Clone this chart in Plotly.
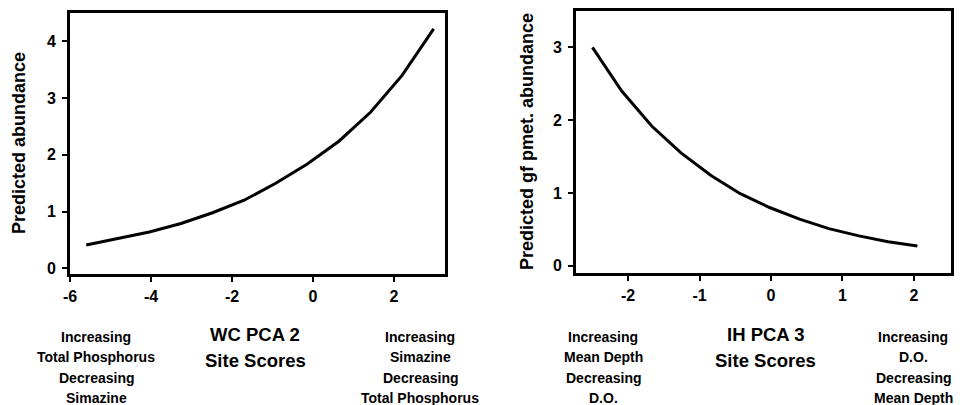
import plotly.graph_objects as go

W, H = 973, 405

# Left panel: WC PCA 2
wc_x = [-5.6, -4.82, -4.04, -3.26, -2.48, -1.70, -0.92, -0.14, 0.64, 1.42, 2.20, 2.98]
wc_y = [0.41, 0.52, 0.64, 0.79, 0.98, 1.20, 1.50, 1.84, 2.24, 2.75, 3.40, 4.22]
wc_xticks = [-6, -4, -2, 0, 2]
wc_xlabels = ["-6", "-4", "-2", "0", "2"]
wc_yticks = [0, 1, 2, 3, 4]

# Right panel: IH PCA 3
ih_x = [-2.5, -2.09, -1.67, -1.26, -0.84, -0.43, -0.02, 0.40, 0.81, 1.23, 1.64, 2.05]
ih_y = [3.0, 2.40, 1.92, 1.55, 1.24, 0.99, 0.80, 0.64, 0.51, 0.41, 0.33, 0.27]
ih_xticks = [-2, -1, 0, 1, 2]
ih_xlabels = ["-2", "-1", "0", "1", "2"]
ih_yticks = [0, 1, 2, 3]

FONT = "Liberation Sans, Arial, sans-serif"

fig = go.Figure()
fig.add_trace(go.Scatter(x=wc_x, y=wc_y, mode="lines",
                         line=dict(color="black", width=3), xaxis="x", yaxis="y",
                         showlegend=False, hoverinfo="skip"))
fig.add_trace(go.Scatter(x=ih_x, y=ih_y, mode="lines",
                         line=dict(color="black", width=3), xaxis="x2", yaxis="y2",
                         showlegend=False, hoverinfo="skip"))

def px_x(p):
    return p / W

def px_y(p):
    return 1 - p / H

axis_common = dict(showline=True, linecolor="black", linewidth=3, mirror=True,
                   ticks="outside", ticklen=5, tickwidth=2, tickcolor="black",
                   showgrid=False, zeroline=False, automargin=False,
                   tickfont=dict(family=FONT, size=16, color="black", weight="bold"))

fig.update_layout(
    width=W, height=H,
    margin=dict(l=0, r=0, t=0, b=0),
    paper_bgcolor="white", plot_bgcolor="white",
    xaxis=dict(domain=[px_x(70), px_x(445)], range=[-6, 3.26], tickvals=wc_xticks,
               ticktext=wc_xlabels, anchor="y", ticklabelstandoff=1, **axis_common),
    yaxis=dict(domain=[px_y(274), px_y(13)], range=[-0.1, 4.5], tickvals=wc_yticks,
               anchor="x", ticklabelstandoff=3, **axis_common),
    xaxis2=dict(domain=[px_x(576), px_x(951)], range=[-2.73, 2.52], tickvals=ih_xticks,
                ticktext=ih_xlabels, anchor="y2", ticklabelstandoff=1, **axis_common),
    yaxis2=dict(domain=[px_y(273), px_y(11)], range=[-0.1, 3.5], tickvals=ih_yticks,
                anchor="x2", ticklabelstandoff=3, **axis_common),
)

def note(text, xc, yc, size, angle=0):
    fig.add_annotation(text=text, x=px_x(xc), y=px_y(yc), xref="paper", yref="paper",
                       showarrow=False, xanchor="center", yanchor="middle", align="center",
                       textangle=angle,
                       font=dict(family=FONT, size=size, color="black", weight="bold"))

# y-axis titles
note("Predicted abundance", 19, 143, 18, -90)
note("Predicted gf pmet. abundance", 527, 142, 18, -90)

side = 14
side_rows = [337, 357, 378, 398]
center_rows = [334, 360]

def block(lines, xc, rows, size):
    for t, yc in zip(lines, rows):
        note(t, xc, yc, size)

block(["Increasing", "Total Phosphorus", "Decreasing", "Simazine"], 96, side_rows, side)
block(["WC PCA 2", "Site Scores"], 255, center_rows, 18.5)
block(["Increasing", "Simazine", "Decreasing", "Total Phosphorus"], 420, side_rows, side)
block(["Increasing", "Mean Depth", "Decreasing", "D.O."], 603, side_rows, side)
block(["IH PCA 3", "Site Scores"], 765, center_rows, 18.5)
block(["Increasing", "D.O.", "Decreasing", "Mean Depth"], 913, side_rows, side)

fig.write_html("out.html", config={"displayModeBar": False},
               post_script="document.body.style.margin='0';document.body.style.overflow='hidden';")
